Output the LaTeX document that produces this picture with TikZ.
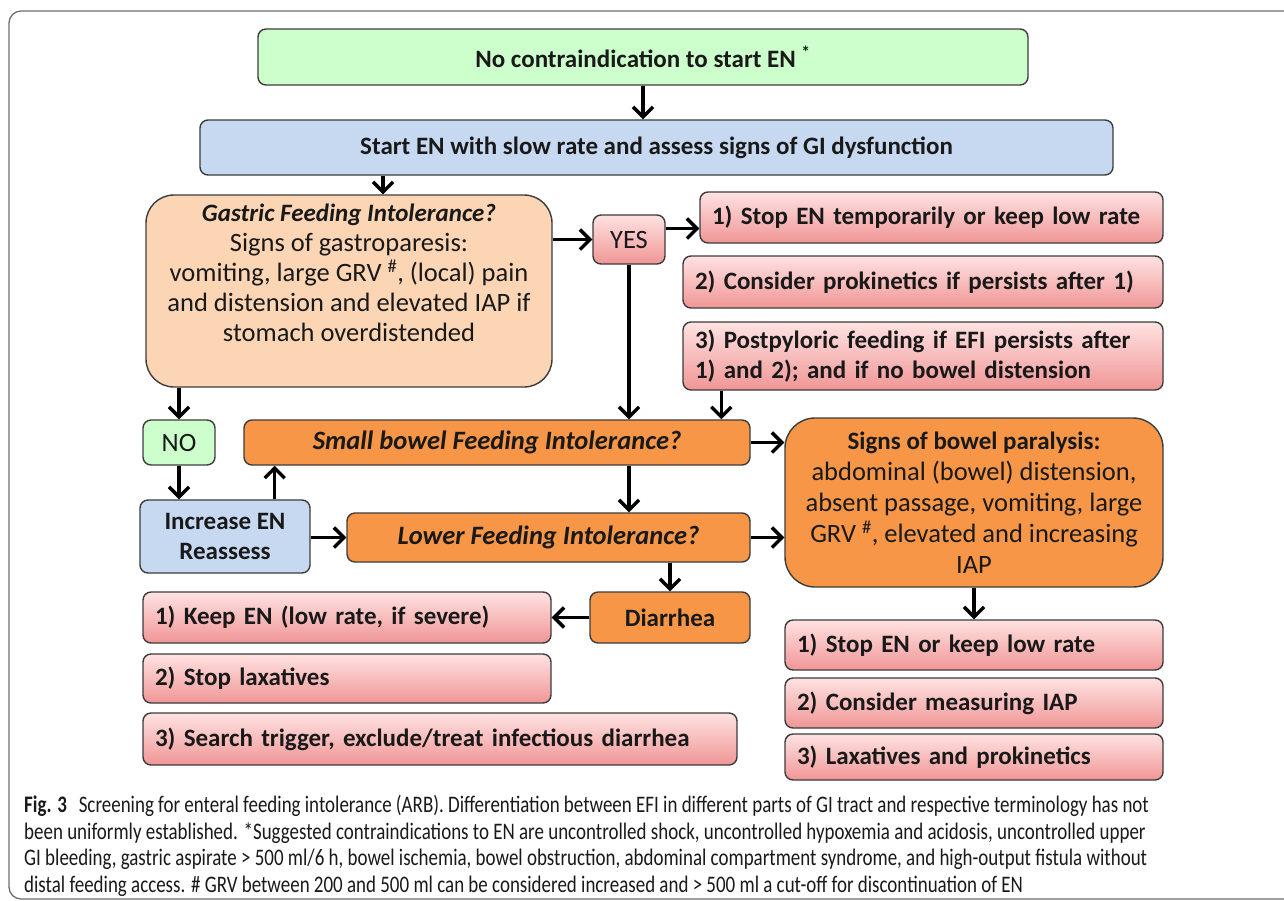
\documentclass[tikz,border=0pt]{standalone}
\usepackage{fontspec}
\setmainfont{Carlito}
\newfontfamily\captionfont[FakeStretch=0.8]{Carlito}
\usepackage{xcolor}
\usetikzlibrary{positioning, arrows.meta, calc}
\definecolor{BoxLine}{RGB}{60, 60, 60}
\definecolor{FrameGray}{RGB}{110, 110, 110}
\definecolor{GreenFill}{RGB}{204, 255, 204}
\definecolor{BlueFill}{RGB}{198, 217, 241}
\definecolor{PeachFill}{RGB}{252, 213, 181}
\definecolor{OrangeFill}{RGB}{247, 150, 70}
\definecolor{PinkTop}{RGB}{255, 226, 226}
\definecolor{PinkBottom}{RGB}{240, 150, 150}
\definecolor{TextDark}{RGB}{25, 25, 25}

\tikzset{
    flowbox/.style={draw=BoxLine, line width=1.4pt, rounded corners=8pt, inner sep=0pt,
        align=center, text=TextDark, font=\fontsize{25pt}{30pt}\selectfont\bfseries},
    plaintext/.style={font=\fontsize{26.5pt}{30pt}\selectfont},
    questiontext/.style={font=\fontsize{26.5pt}{30pt}\selectfont\bfseries\itshape},
    greenbox/.style={flowbox, fill=GreenFill},
    bluebox/.style={flowbox, fill=BlueFill},
    peachbox/.style={flowbox, plaintext, fill=PeachFill, rounded corners=28pt},
    orangebox/.style={flowbox, fill=OrangeFill},
    pinkbox/.style={flowbox, top color=PinkTop, bottom color=PinkBottom, align=left,
        inner xsep=12pt, text width=#1},
    flowarrow/.style={-{Straight Barb[length=10pt, width=20pt]}, line width=3.4pt, black}
}

\begin{document}
\begin{tikzpicture}[x=1pt, y=-1pt]
    \useasboundingbox (0,0) rectangle (1284,900);
    \clip (0,0) rectangle (1284,900);

    % Outer frame of the figure
    \draw[FrameGray, line width=1.3pt, rounded corners=12pt] (9,11) rectangle (1330,899);

    % Top of the chart
    \node[greenbox, minimum width=770pt, minimum height=56pt] (noci) at (643,57)
        {No contraindication to start EN \textsuperscript{*}};
    \node[bluebox, minimum width=913pt, minimum height=55pt] (startEN) at (656.5,147.5)
        {Start EN with slow rate and assess signs of GI dysfunction};

    % Gastric level
    \node[peachbox, minimum width=406pt, minimum height=192pt] (gastric) at (349,291)
        {\fontsize{25pt}{30pt}\selectfont\textbf{\textit{Gastric Feeding Intolerance?}}\\
         Signs of gastroparesis:\\
         vomiting, large GRV \textsuperscript{\#}, (local) pain\\
         and distension and elevated IAP if\\
         stomach overdistended\\[7pt]\mbox{}};
    \node[flowbox, plaintext, top color=PinkTop, bottom color=PinkBottom,
        minimum width=72pt, minimum height=49pt] (yes) at (629,239.5) {YES};
    \node[pinkbox=439pt, minimum height=51pt] (gastA) at (931.5,217.5)
        {1) Stop EN temporarily or keep low rate};
    \node[pinkbox=456pt, minimum height=52pt] (gastB) at (923,282)
        {2) Consider prokinetics if persists after 1)};
    \node[pinkbox=456pt, minimum height=68pt] (gastC) at (923,356)
        {3) Postpyloric feeding if EFI persists after\\1) and 2); and if no bowel distension};

    % Small bowel and lower level
    \node[greenbox, plaintext, minimum width=72pt, minimum height=45pt] (no) at (179,442.5) {NO};
    \node[orangebox, questiontext, minimum width=506pt, minimum height=45pt] (small) at (497,442.5)
        {Small bowel Feeding Intolerance?};
    \node[bluebox, minimum width=170pt, minimum height=73pt] (increase) at (225,536.5)
        {Increase EN\\Reassess};
    \node[orangebox, rounded corners=30pt, plaintext, font=\fontsize{26.5pt}{31pt}\selectfont,
        minimum width=378pt, minimum height=169pt] (paralysis) at (974,502.5)
        {{\fontsize{25pt}{31pt}\selectfont\bfseries Signs of bowel paralysis:}\\
         abdominal (bowel) distension,\\
         absent passage, vomiting, large\\
         GRV \textsuperscript{\#}, elevated and increasing\\
         IAP};
    \node[orangebox, questiontext, minimum width=403pt, minimum height=49pt] (lower) at (548.5,537.5)
        {Lower Feeding Intolerance?};
    \node[orangebox, minimum width=160pt, minimum height=51pt] (diarrhea) at (670,617.5) {Diarrhea};

    % Actions for diarrhea
    \node[pinkbox=384pt, minimum height=51pt] (diarA) at (347,617.5) {1) Keep EN (low rate, if severe)};
    \node[pinkbox=384pt, minimum height=49pt] (diarB) at (347,678.5) {2) Stop laxatives};
    \node[pinkbox=570pt, minimum height=52pt] (diarC) at (440,739)
        {3) Search trigger, exclude/treat infectious diarrhea};

    % Actions for bowel paralysis
    \node[pinkbox=354pt, minimum height=50pt] (parA) at (974,645) {1) Stop EN or keep low rate};
    \node[pinkbox=354pt, minimum height=50pt] (parB) at (974,703) {2) Consider measuring IAP};
    \node[pinkbox=354pt, minimum height=46pt] (parC) at (974,757) {3) Laxatives and prokinetics};

    % Arrows
    \draw[flowarrow] (noci.south) -- (noci.south |- startEN.north);
    \draw[flowarrow] ([xshift=34pt]gastric.north |- startEN.south) -- ([xshift=34pt]gastric.north);
    \draw[flowarrow] (gastric.east |- yes.west) -- (yes.west);
    \draw[flowarrow] ([yshift=11pt]yes.east) -- ([yshift=11pt]yes.east -| gastA.west);
    \draw[flowarrow] (yes.south) -- (yes.south |- small.north);
    \draw[flowarrow] ([xshift=39pt]gastC.south west) -- ([xshift=39pt]gastC.south west |- small.north);
    \draw[flowarrow] (no.north |- gastric.south) -- (no.north);
    \draw[flowarrow] (no.south) -- (no.south |- increase.north);
    \draw[flowarrow] ([xshift=-36pt]increase.north east) -- ([xshift=-36pt]increase.north east |- small.south);
    \draw[flowarrow] (increase.east |- lower.west) -- (lower.west);
    \draw[flowarrow] (small.south -| yes.south) -- (lower.north -| yes.south);
    \draw[flowarrow] (small.east) -- (small.east -| paralysis.west);
    \draw[flowarrow] (lower.east) -- (lower.east -| paralysis.west);
    \draw[flowarrow] (diarrhea.north |- lower.south) -- (diarrhea.north);
    \draw[flowarrow] (diarrhea.west) -- (diarA.east);
    \draw[flowarrow] (paralysis.south) -- (parA.north);

    % Caption
    \node[anchor=north west, align=left, inner sep=0pt, text=TextDark,
        font=\captionfont\fontsize{23.7pt}{26.5pt}\selectfont] (caption) at (24,795)
        {\textbf{Fig. 3}\enspace Screening for enteral feeding intolerance (ARB). Differentiation between EFI in different parts of GI tract and respective terminology has not\\
         been uniformly established. *Suggested contraindications to EN are uncontrolled shock, uncontrolled hypoxemia and acidosis, uncontrolled upper\\
         GI bleeding, gastric aspirate > 500 ml/6 h, bowel ischemia, bowel obstruction, abdominal compartment syndrome, and high-output fistula without\\
         distal feeding access. \# GRV between 200 and 500 ml can be considered increased and > 500 ml a cut-off for discontinuation of EN};
\end{tikzpicture}
\end{document}
